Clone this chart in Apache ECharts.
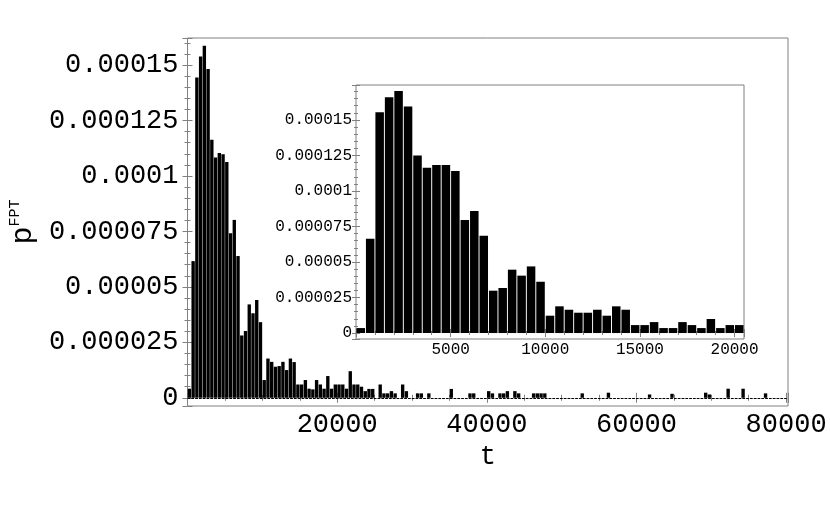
<!DOCTYPE html>
<html><head><meta charset="utf-8">
<script src="https://cdn.jsdelivr.net/npm/echarts@6/dist/echarts.min.js"></script>
<style>html,body{margin:0;padding:0;background:#fff}#c{width:830px;height:506px}</style>
</head><body><div id="c"></div>
<script>
// bin width of both histograms (t units)
const BIN = 500;
// main histogram, bins 0..159 (t = 0..80000), values in units of 1e-6
const mainValues = [
  4.1, 61.6, 144.4, 153.9, 158.7, 148.2, 116.3, 108.3, 110.3, 109.8,
  106.3, 74.2, 80.2, 63.9, 28.1, 30.1, 42.1, 38.1, 44.1, 34.1,
  8.0, 17.7, 16.2, 14.0, 14.3, 16.2, 12.5, 17.7, 16.1, 6.0,
  6.0, 8.0, 4.1, 3.8, 8.0, 6.0, 4.1, 9.8, 4.1, 6.0,
  6.0, 6.0, 4.1, 12.0, 6.0, 6.0, 5.0, 3.0, 4.0, 4.0,
  0, 6.0, 2.0, 2.0, 3.0, 2.0, 0, 6.0, 3.0, 0,
  0, 2.0, 2.0, 0, 2.0, 0, 0, 0, 0, 0,
  4.0, 0, 0, 0, 0, 2.0, 2.0, 0, 0, 0,
  3.0, 2.0, 0, 2.0, 2.0, 3.0, 0, 3.0, 2.0, 0,
  0, 0, 2.0, 2.0, 2.0, 2.0, 0, 0, 0, 0,
  0, 0, 0, 0, 0, 2.0, 0, 0, 0, 0,
  0, 0, 2.3, 0, 0, 0, 0, 0, 0, 0,
  0, 0, 0, 1.5, 0, 0, 0, 0, 0, 1.8,
  0, 0, 0, 0, 0, 0, 0, 0, 2.3, 1.5,
  0, 0, 0, 0, 4.1, 0, 0, 0, 4.1, 0,
  0, 0, 0, 0, 2.0, 0, 0, 0, 0, 0
];
// inset histogram, bins 0..40 (t = 0..20500), values in units of 1e-6
const insetValues = [
  3.5, 66.4, 155.4, 166.0, 170.4, 159.4, 124.9, 116.4, 118.3, 118.3,
  114.1, 79.6, 85.9, 68.5, 29.8, 31.7, 44.6, 40.4, 46.9, 36.1,
  12.2, 18.8, 16.4, 14.3, 14.3, 16.4, 12.2, 18.8, 16.4, 5.6,
  5.6, 7.7, 3.5, 3.5, 7.7, 5.6, 3.5, 9.9, 3.5, 5.6, 5.6
];
const mainXTickLabels = [20000, 40000, 60000, 80000];
const insetXTickLabels = [5000, 10000, 15000, 20000];
const yTickLabels = [0, 25, 50, 75, 100, 125, 150]; // units of 1e-6

const FONT = 'Liberation Mono';
const FRAME = '#808080';

function fmtY(v) {
  const r = Math.round(v);
  if (Math.abs(v - r) > 1e-6 || yTickLabels.indexOf(r) < 0) return '';
  return (r * 1e-6).toFixed(6).replace(/0+$/, '').replace(/\.$/, '');
}
function toBars(vals) {
  const out = [];
  vals.forEach((v, i) => { if (v > 0) out.push([i * BIN + BIN / 2, v]); });
  return out;
}

const chart = echarts.init(document.getElementById('c'), null, {renderer: 'canvas'});

function xAx(grid, min, max, interval, labels, pos, show, fs, tl, mtl) {
  return {
    type: 'value', gridIndex: grid, min: min, max: max, interval: interval, position: pos,
    splitLine: {show: false},
    axisLine: {show: false},
    axisTick: {show: true, inside: true, length: tl, lineStyle: {color: FRAME}},
    minorTick: {show: true, splitNumber: interval === 20000 ? 4 : 5, length: mtl, lineStyle: {color: FRAME}},
    axisLabel: {show: show, color: '#000', fontFamily: FONT, fontSize: fs, margin: fs > 20 ? 5 : 3,
      formatter: v => labels.indexOf(v) >= 0 ? String(v) : ''}
  };
}
function yAx(grid, min, max, pos, show, fs, tl, mtl) {
  return {
    type: 'value', gridIndex: grid, min: min, max: max, minInterval: 25, maxInterval: 25, position: pos,
    splitLine: {show: false},
    axisLine: {show: false},
    axisTick: {show: true, inside: true, length: tl, lineStyle: {color: FRAME}},
    minorTick: {show: true, splitNumber: 5, length: mtl, lineStyle: {color: FRAME}},
    axisLabel: {show: show, color: '#000', fontFamily: FONT, fontSize: fs, margin: fs > 20 ? 9 : 4, formatter: fmtY}
  };
}

const mainX = xAx(0, 0, 80250, 20000, mainXTickLabels, 'bottom', true, 27, 5, 3);
mainX.name = 't';
mainX.nameLocation = 'middle';
mainX.nameGap = 25;
mainX.nameTextStyle = {fontFamily: FONT, fontSize: 27, color: '#000'};
const mainY = yAx(0, -3.7, 162.2, 'left', true, 27, 5, 3);
mainY.name = '{p|p}{s|FPT}';
mainY.nameLocation = 'middle';
mainY.nameRotate = 90;
mainY.nameGap = 148;
mainY.nameTextStyle = {rich: {
  p: {fontFamily: FONT, fontSize: 30, color: '#000', lineHeight: 30},
  s: {fontFamily: FONT, fontSize: 15, color: '#000', verticalAlign: 'top', lineHeight: 30}
}};

chart.setOption({
  animation: false,
  backgroundColor: '#fff',
  grid: [
    {left: 183, top: 38, right: 42, bottom: 100, show: true, borderColor: FRAME, borderWidth: 1, backgroundColor: 'transparent'},
    {left: 356, top: 85, right: 86, bottom: 167, show: true, borderColor: FRAME, borderWidth: 1, backgroundColor: '#fff', z: 5}
  ],
  xAxis: [
    mainX,
    xAx(0, 0, 80250, 20000, mainXTickLabels, 'top', false, 27, 5, 3),
    Object.assign(xAx(1, 0, 20500, 5000, insetXTickLabels, 'bottom', true, 16, 4, 2), {z: 6}),
    Object.assign(xAx(1, 0, 20500, 5000, insetXTickLabels, 'top', false, 16, 4, 2), {z: 6})
  ],
  yAxis: [
    mainY,
    yAx(0, -3.7, 162.2, 'right', false, 27, 5, 3),
    Object.assign(yAx(1, -4.2, 174.6, 'left', true, 16, 4, 2), {z: 6}),
    Object.assign(yAx(1, -4.2, 174.6, 'right', false, 16, 4, 2), {z: 6})
  ],
  series: [
    {
      type: 'bar', xAxisIndex: 0, yAxisIndex: 0, barWidth: '90%', z: 2,
      data: toBars(mainValues),
      itemStyle: {color: '#000'},
      markLine: {
        silent: true, symbol: 'none', label: {show: false},
        lineStyle: {color: '#000', width: 1.2, type: [2.8, 1]},
        data: [{yAxis: 0}]
      }
    },
    {
      type: 'bar', xAxisIndex: 2, yAxisIndex: 2, barWidth: '90%', z: 7,
      data: toBars(insetValues),
      itemStyle: {color: '#000'}
    }
  ]
});
</script>
</body></html>
